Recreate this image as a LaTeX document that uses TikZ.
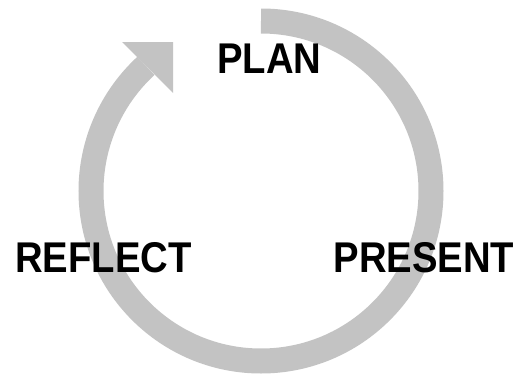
\documentclass[tikz,border=0pt]{standalone}
\usepackage{fontspec}
\newfontfamily\labfont[FakeStretch=0.89]{Liberation Sans}
\definecolor{ringgray}{HTML}{C3C3C3}
\begin{document}
\begin{tikzpicture}[x=1pt,y=1pt,
  ring/.style={draw=ringgray,line width=25pt,line cap=butt},
  lab/.style={font=\labfont\bfseries\fontsize{43}{43}\selectfont,text=black,inner sep=0pt,anchor=base}]
\useasboundingbox (0,0) rectangle (528,376);
\coordinate (c) at (261,185);
% ring
\draw[ring] (c) ++(90:170) arc[start angle=90,end angle=-227.4,radius=170];
% arrowhead
\fill[ringgray] (122,334) -- (173,334) -- (173,283) -- cycle;
% labels
\node[lab] (plan) at (269.5,303) {PLAN};
\node[lab] (reflect) at (103.5,104) {REFLECT};
\node[lab] (present) at (424,104) {PRESENT};
\end{tikzpicture}
\end{document}
